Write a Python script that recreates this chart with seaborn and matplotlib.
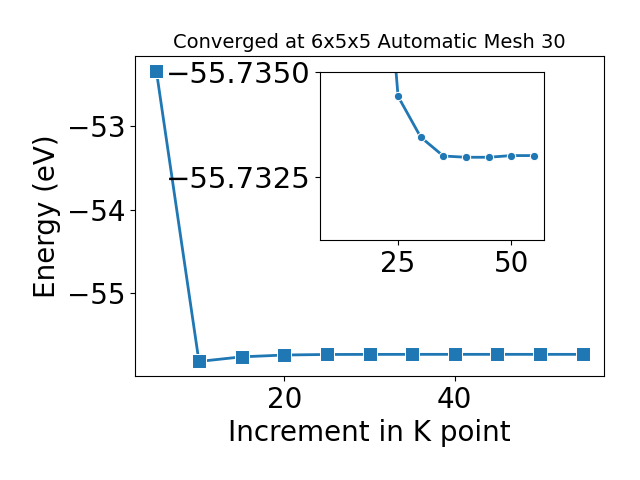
import matplotlib
matplotlib.use("Agg")
import matplotlib.pyplot as plt
import matplotlib.ticker as mticker
import seaborn as sns
import pandas as pd

kpoints = [5, 10, 15, 20, 25, 30, 35, 40, 45, 50, 55]
energy = [-52.336, -55.818, -55.763, -55.741, -55.73442, -55.73345,
          -55.73300, -55.73297, -55.73297, -55.73301, -55.73301]

inset_kpoints = kpoints[1:]
inset_energy = energy[1:]

title = "Converged at 6x5x5 Automatic Mesh 30"
xlabel = "Increment in K point"
ylabel = "Energy (eV)"
inset_yticks = [-55.7350, -55.7325]

df = pd.DataFrame({"k": kpoints, "E": energy})
dfi = pd.DataFrame({"k": inset_kpoints, "E": inset_energy})

fig = plt.figure(figsize=(6.4, 4.8), dpi=100)
ax = fig.add_axes([135 / 640, 1 - 376 / 480, (604 - 135) / 640, (376 - 56) / 480])
sns.lineplot(data=df, x="k", y="E", marker="s", markersize=10, linewidth=2,
             color="#1f77b4", ax=ax)
ax.set_title(title, fontsize=14)
ax.set_xlabel(xlabel, fontsize=20)
ax.set_ylabel(ylabel, fontsize=20)
ax.tick_params(labelsize=20)
ax.set_xticks([20, 40])
ax.set_yticks([-53, -54, -55])

axi = fig.add_axes([0.5, 0.5, 0.35, 0.35])
sns.lineplot(data=dfi, x="k", y="E", marker="o", markersize=6, linewidth=2,
             color="#1f77b4", ax=axi)
axi.set_ylim(-55.7310, -55.7350)
axi.set_yticks(inset_yticks)
axi.yaxis.set_major_formatter(mticker.FuncFormatter(lambda v, p: f"{v:.4f}".replace("-", "\u2212")))
axi.set_xticks([25, 50])
axi.tick_params(axis="x", labelsize=20)
axi.tick_params(axis="y", labelsize=21)
axi.set_xlabel("")
axi.set_ylabel("")

fig.savefig("out.png", dpi=100)
